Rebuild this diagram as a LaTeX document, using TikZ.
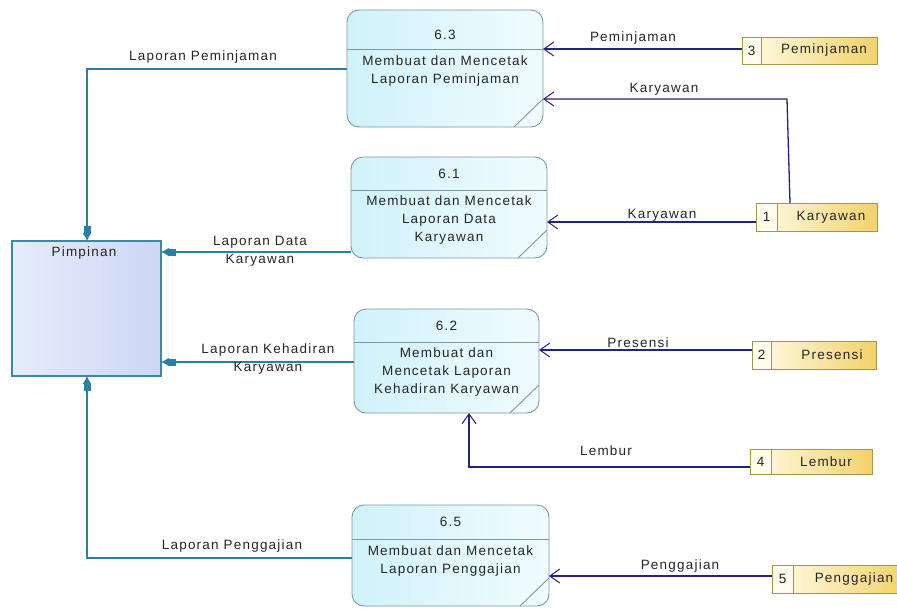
\documentclass[tikz,border=0pt]{standalone}
\usepackage{fontspec}
\setmainfont{Liberation Sans}[LetterSpace=9]
\usetikzlibrary{arrows.meta,positioning}

\definecolor{procfillA}{HTML}{D0F2FA}
\definecolor{procfillB}{HTML}{F0FCFE}
\definecolor{procdraw}{HTML}{7E98A3}
\definecolor{entA}{HTML}{E6ECFB}
\definecolor{entB}{HTML}{CCD7F4}
\definecolor{entdraw}{HTML}{3D88A6}
\definecolor{storeA}{HTML}{FFFCEA}
\definecolor{storeB}{HTML}{F2D26A}
\definecolor{storedraw}{HTML}{A3964C}
\definecolor{flownavy}{HTML}{23247E}
\definecolor{flowteal}{HTML}{2B7FA6}
\definecolor{txt}{HTML}{262626}

\tikzset{
  every node/.style={font=\fontsize{13.5}{18}\selectfont, text=txt, inner sep=0pt},
  procbox/.style={draw=procdraw, line width=0.9pt, rounded corners=12pt,
    left color=procfillA, right color=procfillB},
  procline/.style={draw=procdraw, line width=0.9pt},
  entbox/.style={draw=entdraw, line width=1.2pt, left color=entA, right color=entB},
  storebox/.style={draw=storedraw, line width=0.9pt, left color=storeA, right color=storeB},
  storecell/.style={draw=storedraw, line width=0.9pt, fill=storeA},
  inflow/.style={draw=flownavy, line width=1.3pt,
    -{Straight Barb[length=10pt,width=14pt,line width=1pt]}},
  outflow/.style={draw=flowteal, line width=1.4pt,
    -{Rectangle[length=7pt,width=7pt]Latex[length=8pt,width=9pt]}},
  flowlabel/.style={align=center}
}

% process: #1 name, #2 left, #3 top, #4 right, #5 bottom, #6 header line y
\newcommand{\procshape}[6]{%
  \path[procbox] (#2,#3) rectangle (#4,#5);
  \draw[procline] (#2,#6) -- (#4,#6);
  \draw[procline] ({#4-29},#5) -- (#4,{#5-28});
  \coordinate (#1-nw) at (#2,#3);
  \coordinate (#1-se) at (#4,#5);
}

% data store: #1 name, #2 left, #3 top, #4 right, #5 bottom, #6 divider x
\newcommand{\storeshape}[6]{%
  \path[storebox] (#2,#3) rectangle (#4,#5);
  \path[storecell] (#2,#3) rectangle (#6,#5);
}

\begin{document}
\begin{tikzpicture}[x=1pt,y=-1pt]
\useasboundingbox (0,0) rectangle (897,608);
\fill[white] (0,0) rectangle (897,608);

% ---------- external entity ----------
\path[entbox] (12,241) rectangle (161,376);
\node (pimpinan) at (86.5,308.5) {};
\coordinate (pim-n) at (87,241);
\coordinate (pim-s) at (87,376);
\coordinate (pim-e1) at (161,252);
\coordinate (pim-e2) at (161,362);
\node (pimlabel) at (84,253) {Pimpinan};

% ---------- processes ----------
\procshape{p63}{347}{10}{543}{127}{49}
\node (p63num) at (445,35) {6.3};
\node (p63txt) at (445,71) [align=center] {Membuat dan Mencetak\\Laporan Peminjaman};
\coordinate (p63-w) at (347,69);
\coordinate (p63-e1) at (543,49);
\coordinate (p63-e2) at (543,99);

\procshape{p61}{351}{157}{547}{258}{190}
\node (p61num) at (449,174) {6.1};
\node (p61txt) at (449,220) [align=center] {Membuat dan Mencetak\\Laporan Data\\Karyawan};
\coordinate (p61-w) at (351,252);
\coordinate (p61-e) at (547,222);

\procshape{p62}{354}{309}{539}{413}{342}
\node (p62num) at (446.5,326) {6.2};
\node (p62txt) at (446.5,372) [align=center] {Membuat dan\\Mencetak Laporan\\Kehadiran Karyawan};
\coordinate (p62-w) at (354,362);
\coordinate (p62-e) at (539,350);
\coordinate (p62-s) at (469,413);

\procshape{p65}{352}{505}{549}{606}{539}
\node (p65num) at (450.5,522) {6.5};
\node (p65txt) at (450.5,561) [align=center] {Membuat dan Mencetak\\Laporan Penggajian};
\coordinate (p65-w) at (352,558);
\coordinate (p65-e) at (549,576);

% ---------- data stores ----------
\storeshape{s3}{742}{37}{877}{64}{761}
\node (s3num) at (751.5,50.5) {3};
\node (s3name) at (824,50.5) {Peminjaman};
\coordinate (s3-w) at (742,49);

\storeshape{s1}{756}{203}{877}{231}{777}
\node (s1num) at (766.5,217) {1};
\node (s1name) at (831,217) {Karyawan};
\coordinate (s1-w) at (756,222);
\coordinate (s1-n) at (790,203);

\storeshape{s2}{752}{341}{876}{369}{771}
\node (s2num) at (761.5,355) {2};
\node (s2name) at (832,355) {Presensi};
\coordinate (s2-w) at (752,350);

\storeshape{s4}{750}{449}{872}{474}{771}
\node (s4num) at (760.5,461.5) {4};
\node (s4name) at (826,461.5) {Lembur};
\coordinate (s4-w) at (750,467);

\storeshape{s5}{772}{565}{905}{593}{793}
\node (s5num) at (782.5,579) {5};
\node (s5name) at (854,579) {Penggajian};
\coordinate (s5-w) at (772,576);

% ---------- flows from data stores ----------
\draw[inflow] (s3-w) -- (p63-e1);
\node (l-pem) at (633,38) {Peminjaman};

\coordinate (k-bend) at (787,99);
\draw[inflow] (s1-n) -- (k-bend) -- (p63-e2);
\node (l-kar1) at (664,89) {Karyawan};

\draw[inflow] (s1-w) -- (p61-e);
\node (l-kar2) at (662,215) {Karyawan};

\draw[inflow] (s2-w) -- (p62-e);
\node (l-pres) at (638,343) {Presensi};

\coordinate (lem-bend) at (469,467);
\draw[inflow] (s4-w) -- (lem-bend) -- (p62-s);
\node (l-lem) at (606,451) {Lembur};

\draw[inflow] (s5-w) -- (p65-e);
\node (l-gaji) at (680,566) {Penggajian};

% ---------- reports to Pimpinan ----------
\coordinate (rp-bend) at (87,69);
\draw[outflow] (p63-w) -- (rp-bend) -- (pim-n);
\node (l-rpem) at (203,57) {Laporan Peminjaman};

\draw[outflow] (p61-w) -- (pim-e1);
\node (l-rdata) at (260,251) [flowlabel] {Laporan Data\\Karyawan};

\draw[outflow] (p62-w) -- (pim-e2);
\node (l-rhad) at (268,359) [flowlabel] {Laporan Kehadiran\\Karyawan};

\coordinate (rg-bend) at (87,558);
\draw[outflow] (p65-w) -- (rg-bend) -- (pim-s);
\node (l-rgaji) at (232,546) {Laporan Penggajian};
\end{tikzpicture}
\end{document}
